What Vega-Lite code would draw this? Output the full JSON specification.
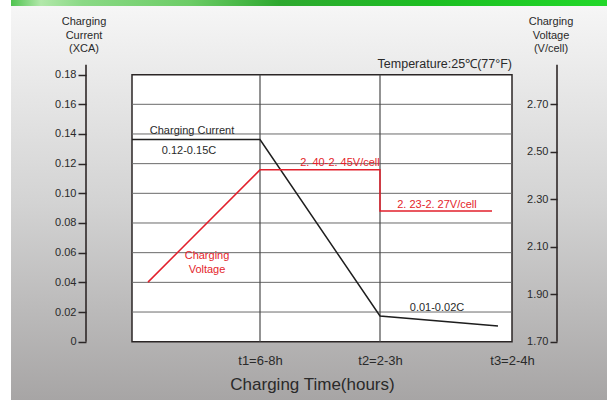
{
  "$schema": "https://vega.github.io/schema/vega-lite/v6.json",
  "width": 607,
  "height": 400,
  "autosize": "none",
  "padding": 0,
  "background": "#ffffff",
  "config": {"view": {"stroke": null}},
  "layer": [
    {
      "layer": [
        {
          "data": {"values": [{}]},
          "mark": {"type": "rect", "fill": {"gradient": "linear", "x1": 0, "y1": 0, "x2": 0, "y2": 1, "stops": [{"offset": 0, "color": "#f6f6f6"}, {"offset": 0.5, "color": "#d3d3d3"}, {"offset": 1, "color": "#a7a5a5"}]}},
          "encoding": {
            "x": {"datum": -121, "type": "quantitative", "scale": {"domain": [-132, 475], "nice": false, "zero": false}},
            "x2": {"datum": 475},
            "y": {"datum": 0.22629, "type": "quantitative", "scale": {"domain": [-0.0393, 0.2303], "nice": false, "zero": false}},
            "y2": {"datum": -0.0393}
          }
        },
        {
          "data": {"values": [{}]},
          "mark": {"type": "rect", "fill": {"gradient": "linear", "x1": 0, "y1": 0, "x2": 1, "y2": 0, "stops": [{"offset": 0, "color": "#4fc34f"}, {"offset": 0.05, "color": "#b2e8aa"}, {"offset": 0.12, "color": "#8ad985"}, {"offset": 0.3, "color": "#6ccc66"}, {"offset": 0.45, "color": "#2ea82f"}, {"offset": 0.7, "color": "#1cbe22"}, {"offset": 1, "color": "#22d82a"}]}},
          "encoding": {
            "x": {"datum": -121, "type": "quantitative", "scale": {"domain": [-132, 475], "nice": false, "zero": false}},
            "x2": {"datum": 475},
            "y": {"datum": 0.2303, "type": "quantitative", "scale": {"domain": [-0.0393, 0.2303], "nice": false, "zero": false}},
            "y2": {"datum": 0.22629}
          }
        },
        {
          "data": {"values": [{}]},
          "mark": {"type": "rect", "fill": "#ffffff", "stroke": "#2b2626", "strokeWidth": 1.5},
          "encoding": {
            "x": {
              "datum": 0, "type": "quantitative",
              "scale": {"domain": [-132, 475], "nice": false, "zero": false},
              "axis": {
                "orient": "bottom", "offset": -58, "values": [128, 248, 380], "zindex": 2,
                "labelExpr": "datum.value == 128 ? 't1=6-8h' : datum.value == 248 ? 't2=2-3h' : 't3=2-4h'",
                "domain": false, "ticks": false, "tickSize": 0, "grid": false,
                "labelPadding": 22, "labelBaseline": "alphabetic", "labelAlign": "center",
                "labelFont": "Liberation Sans Narrow, Liberation Sans", "labelFontSize": 13, "labelColor": "#2a2a2a",
                "labelFlush": false, "labelOverlap": false,
                "title": "Charging Time(hours)", "titleFont": "Liberation Sans", "titleFontSize": 17,
                "titleFontWeight": "normal", "titleColor": "#2a2a2a",
                "titleX": 312, "titleY": 47, "titleBaseline": "alphabetic", "titleAlign": "center"
              }
            },
            "x2": {"datum": 380},
            "y": {
              "datum": 0, "type": "quantitative",
              "scale": {"domain": [-0.0393, 0.2303], "nice": false, "zero": false},
              "axis": {
                "orient": "left", "offset": -86, "zindex": 2,
                "values": [0, 0.02, 0.04, 0.06, 0.08, 0.1, 0.12, 0.14, 0.16, 0.18],
                "labelExpr": "datum.value == 0 ? '0' : format(datum.value, '.2f')",
                "domain": false, "grid": false, "tickSize": 8, "tickColor": "#2b2626", "tickWidth": 1.5,
                "labelPadding": 2, "labelFont": "Liberation Sans Narrow, Liberation Sans", "labelFontSize": 11,
                "labelColor": "#2a2a2a", "labelFlush": false, "labelOverlap": false, "title": null
              }
            },
            "y2": {"datum": 0.18}
          }
        },
        {
          "data": {"values": [{"g": 0.02}, {"g": 0.04}, {"g": 0.06}, {"g": 0.08}, {"g": 0.10}, {"g": 0.12}, {"g": 0.14}, {"g": 0.16}]},
          "mark": {"type": "rule", "stroke": "#6a6a6a", "strokeWidth": 1},
          "encoding": {
            "x": {"datum": 0, "type": "quantitative", "scale": {"domain": [-132, 475], "nice": false, "zero": false}},
            "x2": {"datum": 380},
            "y": {"field": "g", "type": "quantitative", "scale": {"domain": [-0.0393, 0.2303], "nice": false, "zero": false}}
          }
        },
        {
          "data": {"values": [{"t": 128}, {"t": 248}]},
          "mark": {"type": "rule", "stroke": "#4a4a4a", "strokeWidth": 1.2},
          "encoding": {
            "x": {"field": "t", "type": "quantitative", "scale": {"domain": [-132, 475], "nice": false, "zero": false}},
            "y": {"datum": 0, "type": "quantitative", "scale": {"domain": [-0.0393, 0.2303], "nice": false, "zero": false}},
            "y2": {"datum": 0.18}
          }
        },
        {
          "data": {"values": [{"t": -46}, {"t": 425}]},
          "mark": {"type": "rule", "stroke": "#2f2828", "strokeWidth": 1.6},
          "encoding": {
            "x": {"field": "t", "type": "quantitative", "scale": {"domain": [-132, 475], "nice": false, "zero": false}},
            "y": {"datum": 0, "type": "quantitative", "scale": {"domain": [-0.0393, 0.2303], "nice": false, "zero": false}},
            "y2": {"datum": 0.1867}
          }
        },
        {
          "data": {"values": [{"t": 0, "c": 0.1362}, {"t": 128, "c": 0.1362}, {"t": 248, "c": 0.0173}, {"t": 366, "c": 0.0106}]},
          "mark": {"type": "line", "stroke": "#1e1e1e", "strokeWidth": 1.5},
          "encoding": {
            "x": {"field": "t", "type": "quantitative", "scale": {"domain": [-132, 475], "nice": false, "zero": false}},
            "y": {"field": "c", "type": "quantitative", "scale": {"domain": [-0.0393, 0.2303], "nice": false, "zero": false}}
          }
        },
        {
          "data": {"values": [
            {"t": 60, "c": 0.1422, "label": "Charging Current"},
            {"t": 57, "c": 0.1288, "label": "0.12-0.15C"},
            {"t": 305, "c": 0.0225, "label": "0.01-0.02C"},
            {"t": -48, "c": 0.2155, "label": "Charging"},
            {"t": -48, "c": 0.2061, "label": "Current"},
            {"t": -48, "c": 0.1973, "label": "(XCA)"},
            {"t": 419, "c": 0.2155, "label": "Charging"},
            {"t": 419, "c": 0.2061, "label": "Voltage"},
            {"t": 419, "c": 0.1973, "label": "(V/cell)"}
          ]},
          "mark": {"type": "text", "align": "center", "baseline": "middle", "font": "Liberation Sans Narrow, Liberation Sans", "fontSize": 11, "color": "#2a2a2a"},
          "encoding": {
            "x": {"field": "t", "type": "quantitative", "scale": {"domain": [-132, 475], "nice": false, "zero": false}},
            "y": {"field": "c", "type": "quantitative", "scale": {"domain": [-0.0393, 0.2303], "nice": false, "zero": false}},
            "text": {"field": "label"}
          }
        },
        {
          "data": {"values": [{}]},
          "mark": {"type": "text", "align": "right", "baseline": "middle", "font": "Liberation Sans", "fontSize": 12.5, "color": "#2a2a2a", "text": "Temperature:25℃(77°F)"},
          "encoding": {
            "x": {"datum": 380, "type": "quantitative", "scale": {"domain": [-132, 475], "nice": false, "zero": false}},
            "y": {"datum": 0.1872, "type": "quantitative", "scale": {"domain": [-0.0393, 0.2303], "nice": false, "zero": false}}
          }
        }
      ]
    },
    {
      "layer": [
        {
          "data": {"values": [
            {"step": 1, "t": 16, "v": 1.951},
            {"step": 2, "t": 128, "v": 2.424},
            {"step": 3, "t": 248, "v": 2.424},
            {"step": 4, "t": 248, "v": 2.251},
            {"step": 5, "t": 360, "v": 2.251}
          ]},
          "mark": {"type": "line", "stroke": "#e2202c", "strokeWidth": 1.5},
          "encoding": {
            "x": {"field": "t", "type": "quantitative", "scale": {"domain": [-132, 475], "nice": false, "zero": false}},
            "y": {
              "field": "v", "type": "quantitative",
              "scale": {"domain": [1.4544, 3.1396], "nice": false, "zero": false},
              "axis": {
                "orient": "left", "offset": -557, "zindex": 2,
                "values": [1.7, 1.9, 2.1, 2.3, 2.5, 2.7], "format": ".2f",
                "domain": false, "grid": false, "tickSize": 7, "tickColor": "#2b2626", "tickWidth": 1.5,
                "labelPadding": 2, "labelFont": "Liberation Sans Narrow, Liberation Sans", "labelFontSize": 11,
                "labelColor": "#2a2a2a", "labelFlush": false, "labelOverlap": false, "title": null
              }
            },
            "order": {"field": "step"}
          }
        },
        {
          "data": {"values": [
            {"t": 208, "v": 2.454, "label": "2. 40-2. 45V/cell"},
            {"t": 305, "v": 2.276, "label": "2. 23-2. 27V/cell"},
            {"t": 75, "v": 2.061, "label": "Charging"},
            {"t": 75, "v": 2.002, "label": "Voltage"}
          ]},
          "mark": {"type": "text", "align": "center", "baseline": "middle", "font": "Liberation Sans Narrow, Liberation Sans", "fontSize": 11, "color": "#e41e2b"},
          "encoding": {
            "x": {"field": "t", "type": "quantitative", "scale": {"domain": [-132, 475], "nice": false, "zero": false}},
            "y": {"field": "v", "type": "quantitative", "scale": {"domain": [1.4544, 3.1396], "nice": false, "zero": false}},
            "text": {"field": "label"}
          }
        }
      ]
    }
  ],
  "resolve": {"scale": {"y": "independent"}, "axis": {"y": "independent"}}
}
